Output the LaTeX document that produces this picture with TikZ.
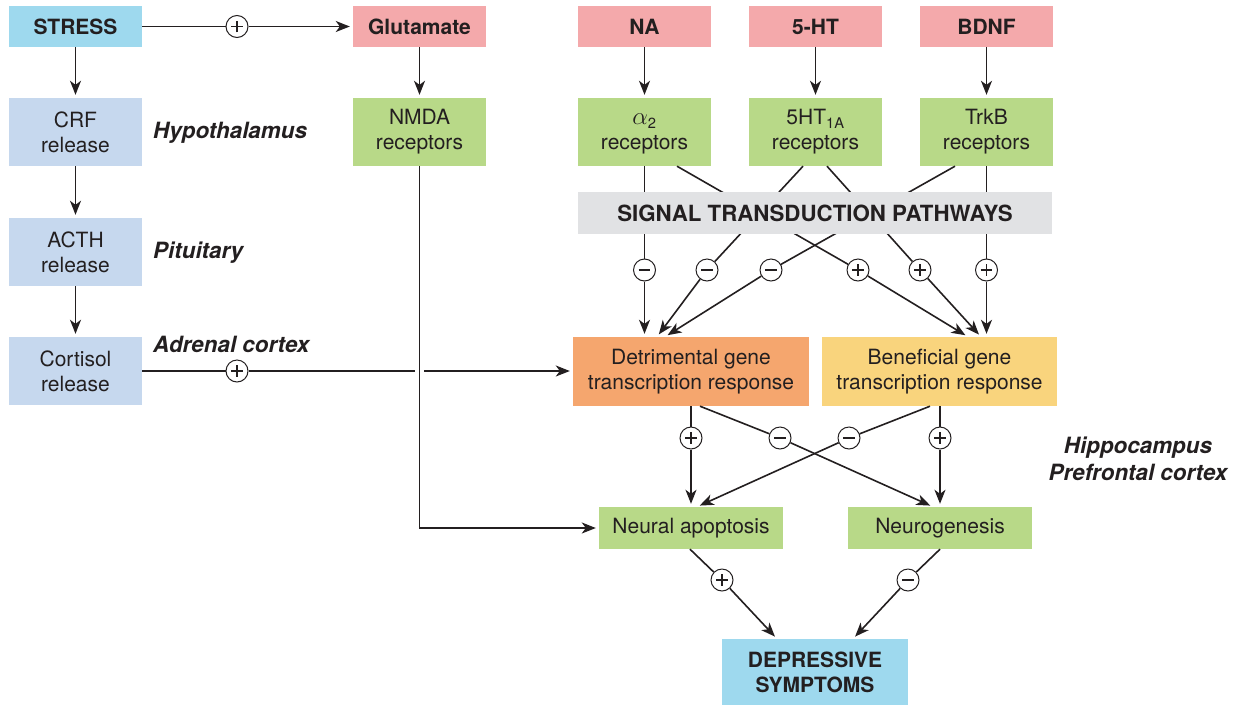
\documentclass[tikz,border=0pt]{standalone}
\usepackage{fontspec}
\setmainfont{TeX Gyre Heros}
\usetikzlibrary{arrows.meta}
\definecolor{cStress}{HTML}{9ED9EE}
\definecolor{cPink}{HTML}{F4A9AB}
\definecolor{cBlue}{HTML}{C6D8EE}
\definecolor{cGreen}{HTML}{B8D988}
\definecolor{cGray}{HTML}{E1E2E4}
\definecolor{cOrange}{HTML}{F5A66E}
\definecolor{cYellow}{HTML}{F9D47D}
\definecolor{cText}{HTML}{231F20}
\begin{document}
\begin{tikzpicture}[x=1pt,y=-1pt,
  box/.style={inner sep=0pt, align=center, text=cText, font=\fontsize{21}{25}\selectfont},
  bbox/.style={box, font=\fontsize{21}{25}\selectfont\bfseries},
  lab/.style={inner sep=0pt, align=center, text=cText, font=\fontsize{22.4}{27}\selectfont\bfseries\itshape},
  small/.style={minimum width=133, minimum height=41},
  tall/.style={minimum width=133, minimum height=68},
  conn/.style={draw=cText, line width=1.6pt},
  arr/.style={conn, shorten >=3pt, -{Stealth[length=14pt,width=11pt,inset=4pt]}},
  sign/.style={circle, draw=cText, line width=1pt, fill=white, minimum size=22pt, inner sep=0pt},
  signminus/.style={sign, path picture={\draw[line width=1.9pt,cText]
      ([xshift=-5.8pt]path picture bounding box.center) -- ([xshift=5.8pt]path picture bounding box.center);}},
  signplus/.style={sign, path picture={\draw[line width=1.9pt,cText]
      ([xshift=-5.8pt]path picture bounding box.center) -- ([xshift=5.8pt]path picture bounding box.center)
      ([yshift=-5.8pt]path picture bounding box.center) -- ([yshift=5.8pt]path picture bounding box.center);}}
]
\useasboundingbox (0,0) rectangle (1239,705);

% left column
\node[bbox, small, fill=cStress] (stress) at (75.5,26.5) {STRESS};
\node[box, tall, fill=cBlue] (crf) at (75.5,132) {CRF\\release};
\node[box, tall, fill=cBlue] (acth) at (75.5,252) {ACTH\\release};
\node[box, tall, fill=cBlue] (cort) at (75.5,371) {Cortisol\\release};

\node[lab, anchor=base west] (hyp) at (153,138) {Hypothalamus};
\node[lab, anchor=base west] (pit) at (153,258) {Pituitary};
\node[lab, anchor=base west] (adr) at (153,352) {Adrenal cortex};
\node[lab] (hip) at (1138,459) {Hippocampus\\Prefrontal cortex};

% top row
\node[bbox, small, fill=cPink] (glut) at (419.5,26.5) {Glutamate};
\node[bbox, small, fill=cPink] (na) at (644.5,26.5) {NA};
\node[bbox, small, fill=cPink] (fiveht) at (815.5,26.5) {5-HT};
\node[bbox, small, fill=cPink] (bdnf) at (986.5,26.5) {BDNF};

% receptors
\node[box, tall, fill=cGreen] (nmda) at (419.5,132) {NMDA\\receptors};
\node[box, tall, fill=cGreen] (alpha) at (644.5,132) {\vphantom{T}{\fontsize{23}{25}\selectfont$\alpha$}\textsubscript{2}\\receptors};
\node[box, tall, fill=cGreen] (htr) at (815.5,132) {5HT\textsubscript{1A}\\receptors};
\node[box, tall, fill=cGreen] (trkb) at (986.5,132) {TrkB\\receptors};

% gene responses and outcomes
\node[box, minimum width=236, minimum height=69, fill=cOrange] (detr) at (691,371.5) {Detrimental gene\\transcription response};
\node[box, minimum width=235, minimum height=69, fill=cYellow] (bene) at (939.5,371.5) {Beneficial gene\\transcription response};
\node[box, minimum width=184, minimum height=42, fill=cGreen] (apop) at (691,528) {Neural apoptosis};
\node[box, minimum width=184, minimum height=42, fill=cGreen] (neuro) at (940,528) {Neurogenesis};
\node[bbox, minimum width=186, minimum height=66, fill=cStress] (dep) at (815,672) {DEPRESSIVE\\SYMPTOMS};

% signs
\node[signplus] (p0) at (237,26.5) {};
\node[signplus] (p1) at (237,371) {};
\node[signminus] (s1) at (644.5,270) {};
\node[signminus] (s2) at (707,270) {};
\node[signminus] (s3) at (771,270) {};
\node[signplus] (s4) at (858,270) {};
\node[signplus] (s5) at (920,270) {};
\node[signplus] (s6) at (986.5,270) {};
\node[signplus] (t1) at (691,438) {};
\node[signminus] (t2) at (780,438) {};
\node[signminus] (t3) at (849,438) {};
\node[signplus] (t4) at (940,438) {};
\node[signplus] (u1) at (722,580) {};
\node[signminus] (u2) at (908,580) {};

% HPA axis
\draw[arr] (stress) -- (crf);
\draw[arr] (crf) -- (acth);
\draw[arr] (acth) -- (cort);
\draw[conn] (stress) -- (p0);
\draw[arr] (p0) -- (glut);
\draw[conn] (cort.east |- p1) -- (p1);
\draw[arr] (p1) -- (p1 -| detr.west);

% glutamate / NMDA
\draw[arr] (glut) -- (nmda);
\draw[arr, preaction={draw=white, line width=9pt, -, shorten >=0pt}] (nmda) |- (apop);

% monoamines
\draw[arr] (na) -- (alpha);
\draw[arr] (fiveht) -- (htr);
\draw[arr] (bdnf) -- (trkb);

% signal transduction lines
\draw[conn] (alpha.south -| s1) -- (s1);
\draw[arr] (s1) -- (s1 |- detr.north);
\draw[conn] ([xshift=-12.5pt]htr.south) -- (s2);
\draw[arr] (s2) -- ([xshift=-34pt]detr.north);
\draw[conn] ([xshift=-31.5pt]trkb.south) -- (s3);
\draw[arr] (s3) -- ([xshift=-26pt]detr.north);
\draw[conn] ([xshift=32.5pt]alpha.south) -- (s4);
\draw[arr] (s4) -- ([xshift=28.5pt]bene.north);
\draw[conn] ([xshift=11.5pt]htr.south) -- (s5);
\draw[arr] (s5) -- ([xshift=41.5pt]bene.north);
\draw[conn] (trkb.south -| s6) -- (s6);
\draw[arr] (s6) -- (s6 |- bene.north);

\node[box, minimum width=474, minimum height=42, fill=cGray, font=\fontsize{22.3}{26}\selectfont\bfseries] (sig) at (815,213) {SIGNAL TRANSDUCTION PATHWAYS};

% gene responses to outcomes
\draw[conn] (detr.south -| t1) -- (t1);
\draw[arr] (t1) -- (t1 |- apop.north);
\draw[conn] ([xshift=9pt]detr.south) -- (t2);
\draw[arr] (t2) -- ([xshift=-7pt]neuro.north);
\draw[conn] ([xshift=-9.5pt]bene.south) -- (t3);
\draw[arr] (t3) -- ([xshift=6pt]apop.north);
\draw[conn] (bene.south -| t4) -- (t4);
\draw[arr] (t4) -- (t4 |- neuro.north);

% outcomes to symptoms
\draw[conn] ([xshift=-1pt]apop.south) -- (u1);
\draw[arr] (u1) -- ([xshift=-38pt]dep.north);
\draw[conn] (neuro.south) -- (u2);
\draw[arr] (u2) -- ([xshift=38pt]dep.north);
\end{tikzpicture}
\end{document}
